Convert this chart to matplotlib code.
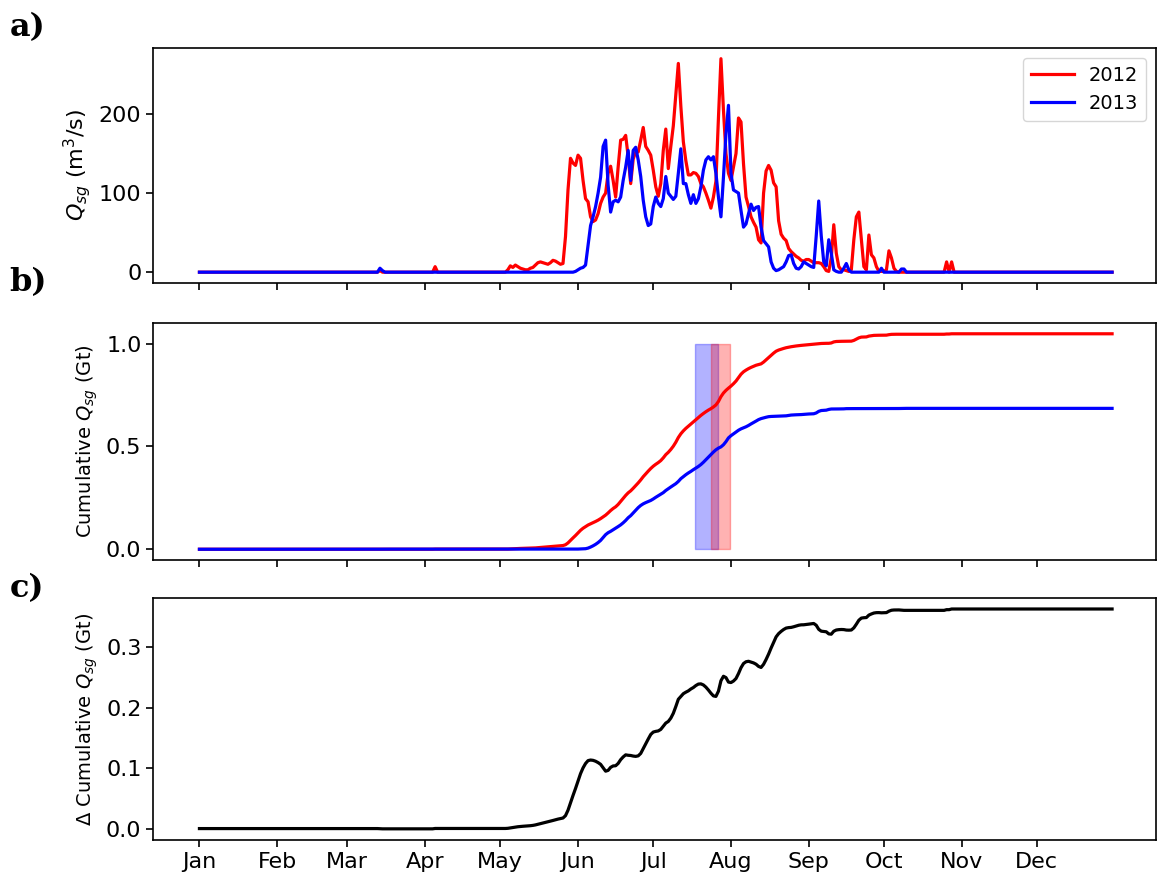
import numpy as np
import matplotlib.pyplot as plt

# month labels and the day of year each month starts on
months = ['Jan', 'Feb', 'Mar', 'Apr', 'May', 'Jun',
          'Jul', 'Aug', 'Sep', 'Oct', 'Nov', 'Dec']
month_start = [0, 31, 59, 90, 120, 151, 181, 212, 243, 273, 304, 334]

# daily subglacial discharge Q_sg (m3/s) from 1 May onwards
season_start = 120
q2012_season = [
    0, 0, 0, 3, 8, 6, 9, 7, 5, 4,
    3, 3, 5, 6, 9, 12, 13, 12, 11, 10,
    12, 15, 14, 12, 10, 11, 45, 104, 144, 138,
    135, 148, 144, 116, 93, 89, 70, 64, 66, 74,
    87, 95, 100, 125, 134, 116, 95, 133, 167, 168,
    173, 146, 112, 143, 152, 152, 167, 183, 159, 154,
    148, 129, 108, 96, 112, 154, 181, 131, 159, 185,
    225, 264, 210, 165, 141, 123, 123, 126, 125, 121,
    112, 108, 100, 91, 81, 95, 115, 195, 270, 205,
    150, 125, 116, 133, 150, 195, 190, 137, 95, 83,
    70, 63, 57, 41, 37, 100, 128, 135, 129, 113,
    108, 65, 48, 43, 40, 30, 26, 23, 20, 18,
    15, 14, 16, 16, 14, 12, 12, 12, 11, 7,
    2, 1, 18, 60, 24, 7, 3, 3, 2, 1,
    3, 41, 70, 76, 41, 7, 3, 47, 22, 18,
    7, 1, 1, 1, 3, 27, 18, 5, 1, 0,
    0, 0, 0, 0, 0, 0, 0, 0, 0, 0,
    0, 0, 0, 0, 0, 0, 0, 0, 13, 0,
    13,
]
q2013_season = [
    0, 0, 0, 0, 0, 0, 0, 0, 0, 0,
    0, 0, 0, 0, 0, 0, 0, 0, 0, 0,
    0, 0, 0, 0, 0, 0, 0, 0, 0, 0,
    1, 3, 5, 6, 9, 34, 59, 70, 83, 100,
    120, 159, 167, 110, 76, 89, 91, 89, 95, 116,
    133, 154, 116, 154, 158, 142, 121, 91, 70, 59,
    61, 83, 95, 87, 83, 93, 121, 100, 96, 92,
    96, 125, 156, 112, 112, 98, 87, 98, 87, 93,
    108, 129, 142, 146, 142, 146, 125, 95, 70, 120,
    175, 211, 125, 104, 102, 100, 78, 57, 61, 74,
    86, 78, 82, 83, 57, 40, 36, 32, 13, 5,
    2, 3, 5, 7, 13, 21, 22, 11, 5, 4,
    7, 13, 11, 9, 7, 6, 46, 90, 46, 13,
    8, 41, 24, 3, 1, 0, 0, 5, 11, 3,
    0, 0, 0, 0, 0, 0, 0, 0, 0, 0,
    0, 0, 5, 0, 0, 0, 0, 0, 0, 0,
    4, 4,
]
# isolated early-spring events
spring_days_2012 = [72, 94]
spring_q2012 = [2, 7]
spring_days_2013 = [72, 73]
spring_q2013 = [5, 2]

# highlighted windows (day of year)
window_2012 = [204.2, 211.6]
window_2013 = [197.5, 206.7]
window_top = 1.0


def daily_series(season, days, vals):
    q = np.zeros(365)
    q[season_start:season_start + len(season)] = season
    q[days] = vals
    return q


doy = np.arange(365)
q2012 = daily_series(q2012_season, spring_days_2012, spring_q2012)
q2013 = daily_series(q2013_season, spring_days_2013, spring_q2013)

# m3/s per day -> Gt
cum2012 = np.cumsum(q2012) * 86400 / 1e9
cum2013 = np.cumsum(q2013) * 86400 / 1e9
dcum = cum2012 - cum2013

plt.rcParams['axes.linewidth'] = 1.2
plt.rcParams['xtick.major.size'] = 5
plt.rcParams['ytick.major.size'] = 5
plt.rcParams['xtick.major.width'] = 1.2
plt.rcParams['ytick.major.width'] = 1.2

fig = plt.figure(figsize=(11.57, 8.73), dpi=100)
ax1 = fig.add_axes([0.1325, 0.676, 0.8666, 0.269])
ax2 = fig.add_axes([0.1325, 0.3585, 0.8666, 0.2715], sharex=ax1)
ax3 = fig.add_axes([0.1325, 0.038, 0.8666, 0.277], sharex=ax1)

ax1.plot(doy, q2012, color='red', lw=2.3, label='2012')
ax1.plot(doy, q2013, color='blue', lw=2.3, label='2013')
ax1.set_ylabel('$Q_{sg}$ (m$^3$/s)', fontsize=16)
ax1.set_yticks([0, 100, 200])
ax1.legend(loc='upper right', fontsize=14, handlelength=2.2)

ax2.plot(doy, cum2012, color='red', lw=2.3)
ax2.plot(doy, cum2013, color='blue', lw=2.3)
ax2.fill_between(window_2013, 0, window_top, color='blue', alpha=0.3)
ax2.fill_between(window_2012, 0, window_top, color='red', alpha=0.3)
ax2.set_ylabel('Cumulative $Q_{sg}$ (Gt)', fontsize=14)
ax2.set_yticks([0, 0.5, 1.0])

ax3.plot(doy, dcum, color='black', lw=2.3)
ax3.set_ylabel('Δ Cumulative $Q_{sg}$ (Gt)', fontsize=14)
ax3.set_yticks([0, 0.1, 0.2, 0.3])

ax3.set_xticks(month_start)
ax3.set_xticklabels(months)
ax3.set_xlim(-18.4, 381.5)
for ax in (ax1, ax2):
    ax.tick_params(labelbottom=False)
for ax in (ax1, ax2, ax3):
    ax.tick_params(labelsize=16)

for lab, y in (('a)', 0.969), ('b)', 0.676), ('c)', 0.326)):
    fig.text(0.008, y, lab, fontsize=23, fontweight='bold',
             family='DejaVu Serif', va='center', ha='left')

fig.savefig('out.png', dpi=100)
